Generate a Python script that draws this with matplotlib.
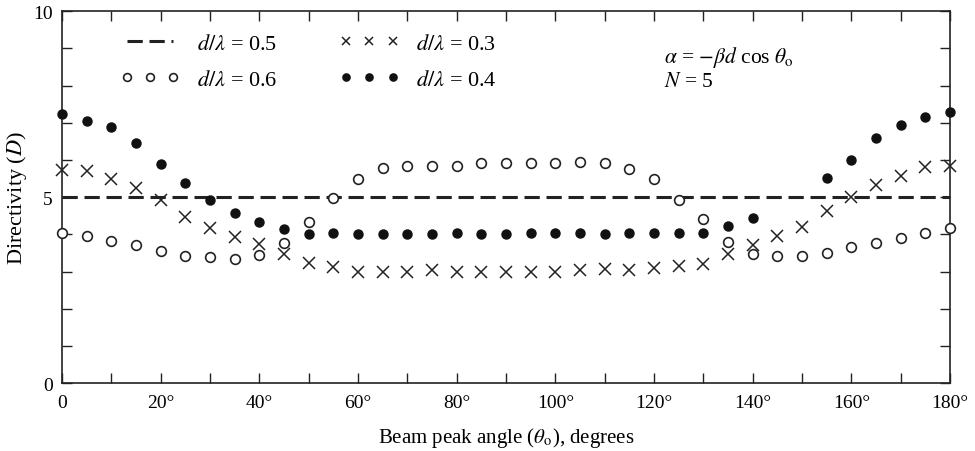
import numpy as np
import matplotlib
matplotlib.use('Agg')
import matplotlib.pyplot as plt
from matplotlib.ticker import MultipleLocator

plt.rcParams['font.family'] = ['Liberation Serif', 'DejaVu Serif']
plt.rcParams['mathtext.fontset'] = 'stix'

theta = np.arange(0, 181, 5)

# d/lambda = 0.6 (open circles)
D_06 = [4.04, 3.96, 3.82, 3.71, 3.56, 3.42, 3.39, 3.35, 3.45, 3.76,
        4.33, 4.97, 5.48, 5.78, 5.83, 5.83, 5.83, 5.91, 5.91, 5.91,
        5.91, 5.94, 5.91, 5.75, 5.50, 4.92, 4.42, 3.79, 3.47, 3.41,
        3.41, 3.49, 3.65, 3.76, 3.90, 4.03, 4.17]
# d/lambda = 0.3 (crosses)
D_03 = [5.72, 5.70, 5.48, 5.24, 4.92, 4.47, 4.17, 3.93, 3.75, 3.46,
        3.24, 3.12, 3.00, 3.00, 3.00, 3.03, 3.00, 3.00, 3.00, 3.00,
        3.00, 3.03, 3.06, 3.05, 3.09, 3.14, 3.20, 3.47, 3.71, 3.95,
        4.20, 4.62, 5.00, 5.33, 5.56, 5.80, 5.83]
# d/lambda = 0.4 (filled circles), 145 and 150 not shown
D_04 = [7.25, 7.06, 6.90, 6.45, 5.90, 5.37, 4.92, 4.57, 4.33, 4.15,
        4.00, 4.03, 4.00, 4.00, 4.00, 4.00, 4.05, 4.00, 4.00, 4.03,
        4.03, 4.03, 4.00, 4.05, 4.03, 4.03, 4.03, 4.22, 4.43, np.nan,
        np.nan, 5.51, 6.00, 6.60, 6.95, 7.15, 7.30]
# d/lambda = 0.5 (dashed)
D_05 = 5.0

xticks = [0, 20, 40, 60, 80, 100, 120, 140, 160, 180]
xlabels = ['0'] + ['%d°' % v for v in xticks[1:]]
yticks = [0, 5, 10]

fig = plt.figure(figsize=(9.75, 4.52), dpi=100)
ax = fig.add_axes([0.0636, 0.150, 0.9108, 0.823])

l05, = ax.plot([0, 180], [D_05, D_05], color='#222222', lw=2.2, dashes=(5, 2.2),
               label=r'$d/\lambda$ = 0.5', zorder=1)
l06, = ax.plot(theta, D_06, ls='none', marker='o', ms=7, mfc='white', mec='#222222',
               mew=1.2, label=r'$d/\lambda$ = 0.6', clip_on=False, zorder=3)
l03, = ax.plot(theta, D_03, ls='none', marker='x', ms=8, color='#222222',
               mew=1.1, label=r'$d/\lambda$ = 0.3', clip_on=False, zorder=3)
l04, = ax.plot(theta, D_04, ls='none', marker='o', ms=6.5, color='#111111',
               label=r'$d/\lambda$ = 0.4', clip_on=False, zorder=3)

ax.legend(handles=[l05, l06, l03, l04], ncol=2, numpoints=3, frameon=False,
          loc='upper left', bbox_to_anchor=(0.0653, 0.94), fontsize=16,
          borderpad=0, borderaxespad=0, markerscale=0.8,
          handlelength=2.7, handletextpad=0.75, columnspacing=2.8, labelspacing=0.7)

ax.text(122, 8.78, r'$\alpha$ = $-\beta d$ cos $\theta_{\rm o}$', fontsize=15.5, va='center')
ax.text(122, 8.12, r'$N$ = 5', fontsize=15.5, va='center')

ax.set_xlim(0, 180)
ax.set_ylim(0, 10)
ax.set_xticks(xticks, xlabels)
ax.set_yticks(yticks, [str(v) for v in yticks])
ax.xaxis.set_minor_locator(MultipleLocator(10))
ax.yaxis.set_minor_locator(MultipleLocator(1))
ax.tick_params(which='both', direction='in', top=True, right=True, labelsize=14,
               width=1, color='#222222')
ax.tick_params(which='major', length=7)
ax.tick_params(axis='x', which='major', pad=7.5)
ax.tick_params(axis='y', which='major', pad=6.5)
ax.tick_params(which='minor', length=7)
for s in ax.spines.values():
    s.set_linewidth(1.2)
    s.set_color('#222222')

ax.set_xlabel(r'Beam peak angle ($\theta_{\rm o}$), degrees', fontsize=15, labelpad=10)
ax.set_ylabel(r'Directivity ($D$)', fontsize=16, labelpad=3)

plt.savefig('out.png', dpi=100)
